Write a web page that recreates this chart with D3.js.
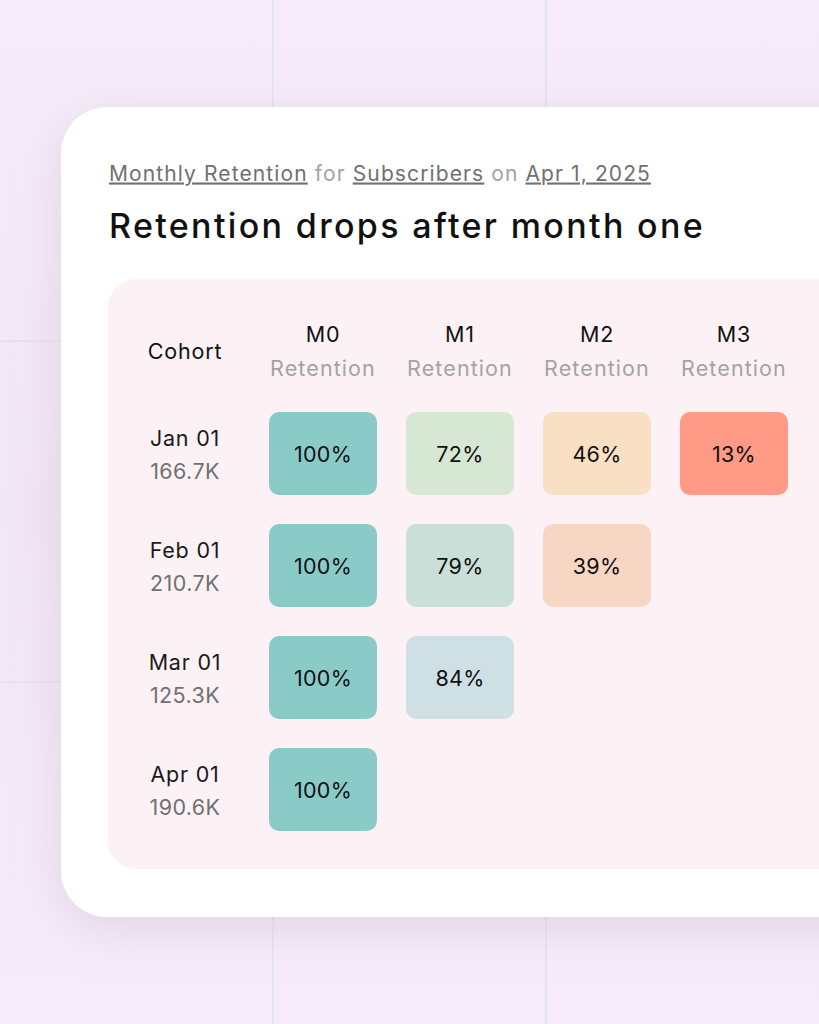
<!DOCTYPE html>
<html><head><meta charset="utf-8">
<script src="https://cdn.jsdelivr.net/npm/d3@7"></script>
<style>html,body{margin:0;padding:0;background:#f6ecf9;overflow:hidden}</style>
</head><body><svg id="c" width="819" height="1024"></svg>
<script>
const cohorts = ["Jan 01","Feb 01","Mar 01","Apr 01"];
const cohortSizes = ["166.7K","210.7K","125.3K","190.6K"];
const periods = ["M0","M1","M2","M3"];
const retention = [[100,72,46,13],[100,79,39],[100,84],[100]];
const colorStops = [13,39,46,72,79,84,100];
const colorValues = ["#fe9a86","#f8d6c4","#f9dfc4","#d6e7d4","#c9dfd8","#cfe0e5","#8acbc8"];

const F = "Inter, 'Noto Sans', sans-serif";
const svg = d3.select("#c");
const defs = svg.append("defs");
const bg = defs.append("linearGradient").attr("id","bg").attr("x1",0).attr("y1",0).attr("x2",0).attr("y2",1);
bg.append("stop").attr("offset","0%").attr("stop-color","#f6ecf9");
bg.append("stop").attr("offset","50%").attr("stop-color","#f1e6f3");
bg.append("stop").attr("offset","100%").attr("stop-color","#f6ecf9");
const sh = defs.append("filter").attr("id","sh").attr("x","-30%").attr("y","-30%").attr("width","160%").attr("height","160%");
sh.append("feDropShadow").attr("dx",0).attr("dy",12).attr("stdDeviation",24).attr("flood-color","#b89cc0").attr("flood-opacity",0.3);

svg.append("rect").attr("width",819).attr("height",1024).attr("fill","url(#bg)");
[273,546].forEach(x=>svg.append("line").attr("x1",x).attr("x2",x).attr("y1",0).attr("y2",1024).attr("stroke","#cfe0e6").attr("stroke-width",1));
[341,682].forEach(y=>svg.append("line").attr("x1",0).attr("x2",819).attr("y1",y).attr("y2",y).attr("stroke","#cfe0e6").attr("stroke-width",1));

svg.append("rect").attr("x",61).attr("y",107).attr("width",900).attr("height",810).attr("rx",46).attr("fill","#fff").attr("filter","url(#sh)");
svg.append("rect").attr("x",108).attr("y",279).attr("width",800).attr("height",590).attr("rx",28).attr("fill","#fcf2f5");

function fit(sel, target){
  const n = sel.text().length;
  const w = sel.node().getComputedTextLength();
  sel.attr("letter-spacing", ((target - w) / n).toFixed(2));
}

const sub = svg.append("text").attr("x",109).attr("y",180.5).attr("font-family",F).attr("font-size",21).attr("fill","#6f6f6f");
[["Monthly Retention",true],[" for ",false],["Subscribers",true],[" on ",false],["Apr 1, 2025",true]].forEach(([t,u])=>{
  sub.append("tspan").text(t).attr("fill",u?"#707070":"#a3a3a3").attr("text-decoration",u?"underline":null);
});
fit(sub, 542);
const title = svg.append("text").attr("x",109).attr("y",238).attr("font-family",F).attr("font-size",34).attr("font-weight",500).attr("fill","#111").text("Retention drops after month one");
fit(title, 596);

const x = d3.scalePoint().domain(periods).range([323,734]);
const y = d3.scalePoint().domain(cohorts).range([453.5,789.5]);
const color = d3.scaleLinear().domain(colorStops).range(colorValues);
const cw = 108, ch = 83;
const LS = 0.8;

svg.append("text").attr("x",185).attr("y",359).attr("text-anchor","middle").attr("font-family",F).attr("font-size",21.5).attr("letter-spacing",LS).attr("fill","#111").text("Cohort");
const hdr = svg.append("g").selectAll("g").data(periods).join("g");
hdr.append("text").attr("x",d=>x(d)).attr("y",342).attr("text-anchor","middle").attr("font-family",F).attr("font-size",21.5).attr("letter-spacing",LS).attr("fill","#111").text(d=>d);
hdr.append("text").attr("x",d=>x(d)).attr("y",376).attr("text-anchor","middle").attr("font-family",F).attr("font-size",21.5).attr("letter-spacing",1.1).attr("fill","#a3a3a3").text("Retention");

const rows = svg.append("g").selectAll("g").data(cohorts).join("g");
rows.append("text").attr("x",185).attr("y",d=>y(d)-8).attr("text-anchor","middle").attr("font-family",F).attr("font-size",21.5).attr("letter-spacing",LS).attr("fill","#1a1a1a").text(d=>d);
rows.append("text").attr("x",185).attr("y",d=>y(d)+25).attr("text-anchor","middle").attr("font-family",F).attr("font-size",21.5).attr("letter-spacing",0.4).attr("fill","#707070").text((d,i)=>cohortSizes[i]);

const cells = [];
retention.forEach((r,i)=>r.forEach((v,j)=>cells.push({c:cohorts[i],p:periods[j],v})));
const cg = svg.append("g").selectAll("g").data(cells).join("g");
cg.append("rect").attr("x",d=>x(d.p)-cw/2).attr("y",d=>y(d.c)-ch/2).attr("width",cw).attr("height",ch).attr("rx",10).attr("fill",d=>color(d.v));
cg.append("text").attr("x",d=>x(d.p)).attr("y",d=>y(d.c)+8).attr("text-anchor","middle").attr("font-family",F).attr("font-size",21.5).attr("letter-spacing",0.3).attr("fill","#111").text(d=>d.v+"%");
</script></body></html>
